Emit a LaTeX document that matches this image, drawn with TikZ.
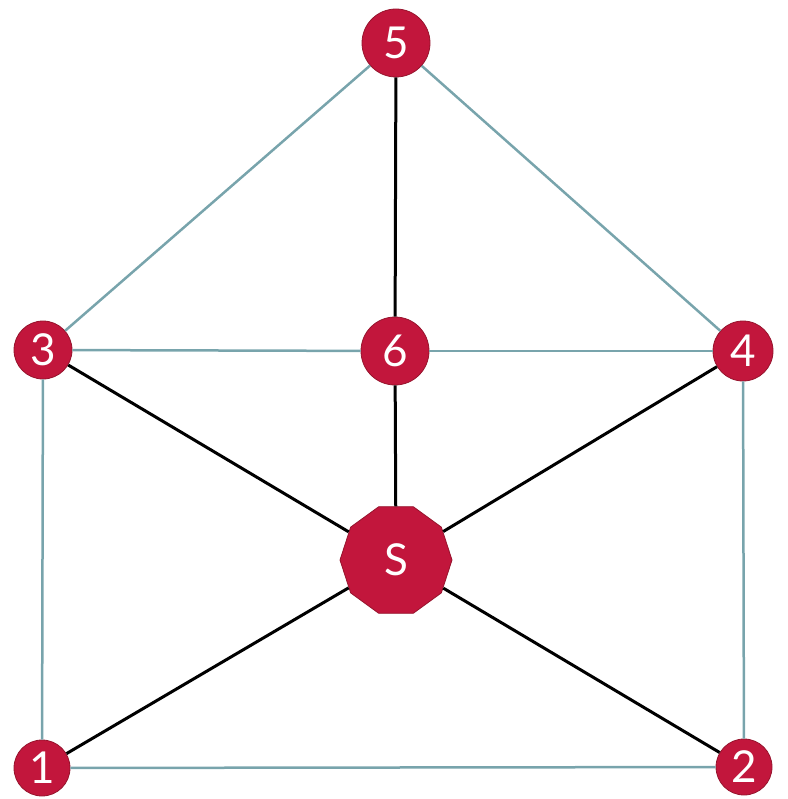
\documentclass[tikz,border=0pt]{standalone}
\usepackage{fontspec}
\setmainfont{Lato}
\usetikzlibrary{shapes.geometric}
\definecolor{nodered}{RGB}{194,22,60}
\definecolor{nodeedge}{RGB}{150,20,45}
\definecolor{tealline}{RGB}{120,164,172}
\tikzset{
  vtx/.style={circle, fill=nodered, draw=nodeedge, line width=0.8pt, text=white, inner sep=0pt, font=\fontsize{44}{44}\selectfont},
  src/.style={regular polygon, regular polygon sides=10, fill=nodered, draw=nodeedge, line width=0.8pt, text=white, inner sep=0pt, minimum size=112pt, font=\fontsize{44}{44}\selectfont},
  tealedge/.style={draw=tealline, line width=2.5pt},
  blackedge/.style={draw=black, line width=3pt}
}
\begin{document}
\begin{tikzpicture}[x=1pt, y=-1pt]
\useasboundingbox (0,0) rectangle (787,799);
\node[vtx, minimum size=68pt] (n5) at (396,43) {5};
\node[vtx, minimum size=58pt] (n3) at (43,350) {3};
\node[vtx, minimum size=68pt] (n6) at (395,351) {6};
\node[vtx, minimum size=60pt] (n4) at (743,351) {4};
\node[src] (S) at (396,560) {S};
\node[vtx, minimum size=56pt] (n1) at (42,768) {1};
\node[vtx, minimum size=56pt] (n2) at (744,767) {2};
\path[tealedge] (n5) -- (n3);
\path[tealedge] (n5) -- (n4);
\path[tealedge] (n3) -- (n6);
\path[tealedge] (n6) -- (n4);
\path[tealedge] (n3) -- (n1);
\path[tealedge] (n4) -- (n2);
\path[tealedge] (n1) -- (n2);
\path[blackedge] (n5) -- (n6);
\path[blackedge] (n6) -- (S);
\path[blackedge] (n3) -- (S);
\path[blackedge] (n4) -- (S);
\path[blackedge] (n1) -- (S);
\path[blackedge] (n2) -- (S);
\end{tikzpicture}
\end{document}
